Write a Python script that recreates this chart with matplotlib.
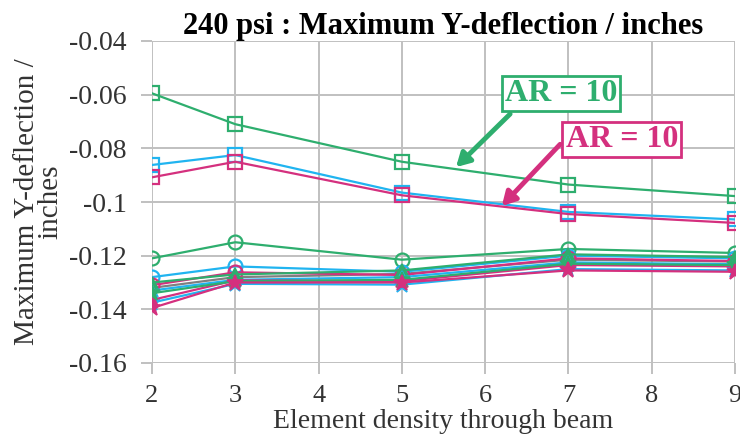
import matplotlib
matplotlib.use("Agg")
import matplotlib.pyplot as plt

x = [2, 3, 5, 7, 9]

# upper cluster (square markers)
g_sq = [-0.0595, -0.0710, -0.0850, -0.0935, -0.0978]
c_sq = [-0.0862, -0.0825, -0.0965, -0.1037, -0.1065]
m_sq = [-0.0908, -0.0850, -0.0975, -0.1045, -0.1078]

# lower cluster
g_ci = [-0.1210, -0.1150, -0.1215, -0.1175, -0.1190]
c_ci = [-0.1280, -0.1240, -0.1260, -0.1200, -0.1210]
m_ci = [-0.1310, -0.1262, -0.1272, -0.1210, -0.1220]
k_ln = [-0.1320, -0.1280, -0.1268, -0.1215, -0.1222]
g_tr = [-0.1300, -0.1270, -0.1255, -0.1195, -0.1205]
c_tr = [-0.1330, -0.1290, -0.1280, -0.1225, -0.1232]
m_tr = [-0.1365, -0.1292, -0.1295, -0.1235, -0.1240]
g_st = [-0.1340, -0.1295, -0.1290, -0.1230, -0.1235]
c_st = [-0.1375, -0.1305, -0.1308, -0.1250, -0.1255]
m_st = [-0.1395, -0.1300, -0.1300, -0.1255, -0.1260]

GREEN = "#2eae6e"
CYAN = "#20b4f0"
MAG = "#d4307e"
GRAY = "#7f7f7f"

plt.rcParams['font.family'] = ['Liberation Serif', 'DejaVu Serif']

fig = plt.figure(figsize=(7.40, 4.46), dpi=100)
ax = fig.add_axes([152/740, (446-363)/446, (735-152)/740, (363-41)/446])

lw = 1.6
ms = 10
def hollow(y, col, mk):
    ax.plot(x, y, color=col, lw=lw, marker=mk, ms=ms, mfc='none', mec=col, mew=1.6, zorder=3)
def filled(y, col, mk, s=ms):
    ax.plot(x, y, color=col, lw=lw, marker=mk, ms=s, mfc=col, mec=col, mew=1.2, zorder=3)

ax.plot(x, k_ln, color=GRAY, lw=lw, zorder=2)
hollow(g_ci, GREEN, 'o')
hollow(c_ci, CYAN, 'o')
hollow(m_ci, MAG, 'o')
filled(c_st, CYAN, '*', 12)
filled(g_tr, GREEN, '^', 8)
filled(c_tr, CYAN, '^', 8)
filled(m_tr, MAG, '^', 8)
filled(g_st, GREEN, '*', 12)
filled(m_st, MAG, '*', 12)
hollow(g_sq, GREEN, 's')
hollow(c_sq, CYAN, 's')
hollow(m_sq, MAG, 's')

ax.set_xlim(2, 9)
ax.set_ylim(-0.16, -0.04)
ax.set_xticks(range(2, 10))
ax.set_yticks([-0.16, -0.14, -0.12, -0.1, -0.08, -0.06, -0.04])
ax.set_yticklabels(["-0.16", "-0.14", "-0.12", "-0.1", "-0.08", "-0.06", "-0.04"])
ax.grid(True, color="#c0c0c0", lw=1.4, zorder=0)
ax.set_axisbelow(True)
for s in ax.spines.values():
    s.set_visible(False)
ax.tick_params(axis='both', colors="#c0c0c0", width=1.4, length=8, labelsize=20,
               labelcolor="#333333")
ax.tick_params(axis='y', pad=10)
ax.tick_params(axis='x', pad=8, labelsize=19)

ax.set_xlabel("Element density through beam", fontsize=20, color="#333333", labelpad=1)
ax.set_ylabel("Maximum Y-deflection /\ninches", fontsize=21, color="#333333",
              linespacing=0.9, labelpad=4)
ax.set_title("240 psi : Maximum Y-deflection / inches", fontsize=22, fontweight='bold',
             pad=5)

# annotations
ax.text(6.91, -0.0596, "AR = 10", color=GREEN, fontsize=23, fontweight='bold',
        ha='center', va='center', zorder=6,
        bbox=dict(boxstyle='square,pad=0.1', fc='white', ec=GREEN, lw=2.0))
ax.annotate("", xy=(5.65, -0.0870), xytext=(6.30, -0.0672),
            arrowprops=dict(arrowstyle='-|>,head_length=0.8,head_width=0.45',
                            color=GREEN, lw=3.5, shrinkA=0, shrinkB=0), zorder=5)
ax.text(7.64, -0.0767, "AR = 10", color=MAG, fontsize=23, fontweight='bold',
        ha='center', va='center', zorder=6,
        bbox=dict(boxstyle='square,pad=0.1', fc='white', ec=MAG, lw=2.0))
ax.annotate("", xy=(6.20, -0.1015), xytext=(6.90, -0.0785),
            arrowprops=dict(arrowstyle='-|>,head_length=0.8,head_width=0.45',
                            color=MAG, lw=3.5, shrinkA=0, shrinkB=0), zorder=5)

fig.savefig("out.png", dpi=100)
